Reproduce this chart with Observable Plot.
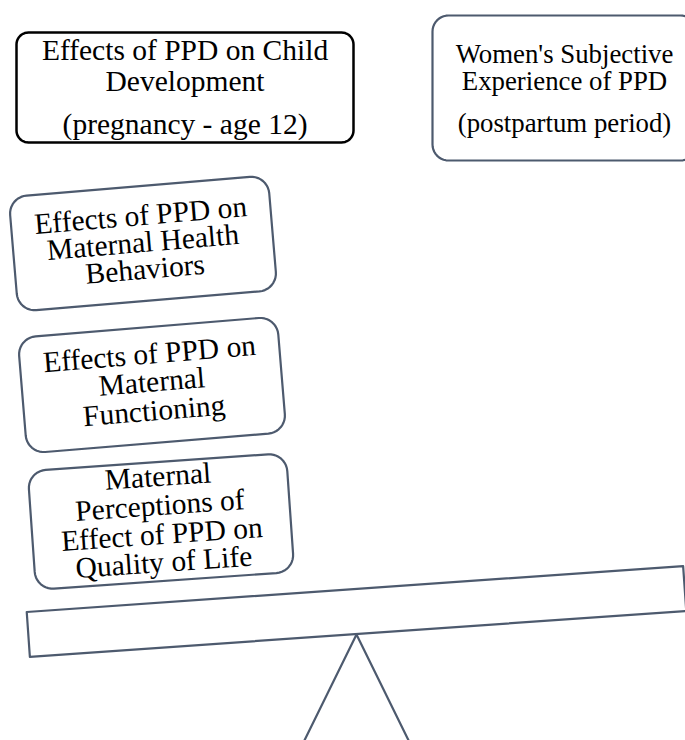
<!DOCTYPE html>
<html><head><meta charset="utf-8">
<script src="https://cdn.jsdelivr.net/npm/d3@7"></script>
<script src="https://cdn.jsdelivr.net/npm/@observablehq/plot@0.6"></script>
<style>body{margin:0;background:#fff}#chart svg{display:block}</style>
</head><body><div id="chart"></div>
<script>
// Diagram content
const boxIds = ["child", "women", "health", "functioning", "quality"];
const boxLines = [
  ["Effects of PPD on Child", "Development", "(pregnancy - age 12)"],
  ["Women's Subjective", "Experience of PPD", "(postpartum period)"],
  ["Effects of PPD on", "Maternal Health", "Behaviors"],
  ["Effects of PPD on", "Maternal", "Functioning"],
  ["Maternal", "Perceptions of", "Effect of PPD on", "Quality of Life"]
];
// Box layout (centre, size, tilt in degrees)
const boxCx = [184.5, 564, 142.5, 151.5, 160.5];
const boxCy = [87, 87.5, 243, 384.5, 521];
const boxW = [337, 264, 260, 260, 259];
const boxH = [110, 145, 115, 116, 119];
const boxAngle = [0, 0, -4.8, -4.7, -4];
const boxRadius = [12, 16, 18, 18, 18];
const boxLineOffsets = [[-37, -6, 37], [-34, -7, 35], [-28, -1, 26], [-31, -3, 26], [-45, -16, 13, 41]];
const boxFontSize = [29.5, 26.8, 29.5, 29.5, 29.5];
const boxStroke = ["#000000", "#4d5a6e", "#4d5a6e", "#4d5a6e", "#4d5a6e"];
const boxStrokeWidth = [2.5, 2.2, 2.2, 2.2, 2.2];
// Seesaw plank and fulcrum
const plankGeom = [356, 611, 658, 45, -4]; // cx, cy, w, h, angle
const fulcrumX = [298, 356, 414];
const fulcrumY = [752, 634, 752];
const lineColor = "#4d5a6e";

function rectPoints(id, cx, cy, w, h, r, angleDeg) {
  const a = angleDeg * Math.PI / 180, c = Math.cos(a), s = Math.sin(a);
  const hw = w / 2, hh = h / 2, pts = [];
  const corners = [[hw - r, -hh + r, -90], [hw - r, hh - r, 0], [-hw + r, hh - r, 90], [-hw + r, -hh + r, 180]];
  const steps = r > 0 ? 10 : 0;
  for (const [ox, oy, start] of corners) {
    for (let k = 0; k <= steps; k++) {
      const t = (start + (steps ? k * 90 / steps : 0)) * Math.PI / 180;
      const lx = ox + r * Math.cos(t), ly = oy + r * Math.sin(t);
      pts.push({id, x: cx + lx * c - ly * s, y: cy + lx * s + ly * c});
    }
  }
  pts.push({...pts[0]});
  return pts;
}

const outline = [];
boxIds.forEach((id, i) => {
  rectPoints(id, boxCx[i], boxCy[i], boxW[i], boxH[i], boxRadius[i], boxAngle[i])
    .forEach(p => outline.push({...p, stroke: boxStroke[i], sw: boxStrokeWidth[i]}));
});
rectPoints("plank", ...plankGeom.slice(0, 4), 0, plankGeom[4])
  .forEach(p => outline.push({...p, stroke: lineColor, sw: 2.2}));
fulcrumX.forEach((x, k) => outline.push({id: "fulcrum", x, y: fulcrumY[k], stroke: lineColor, sw: 2.2}));

const labels = [];
boxIds.forEach((id, i) => {
  const a = boxAngle[i] * Math.PI / 180, c = Math.cos(a), s = Math.sin(a);
  boxLines[i].forEach((t, k) => {
    const ly = boxLineOffsets[i][k];
    labels.push({text: t, x: boxCx[i] - ly * s, y: boxCy[i] + ly * c, rotate: boxAngle[i], size: boxFontSize[i]});
  });
});

const chart = Plot.plot({
  width: 685, height: 740, margin: 0,
  x: {domain: [0, 685], range: [0, 685], axis: null},
  y: {domain: [0, 740], range: [0, 740], axis: null},
  color: {type: "identity"},
  style: {background: "#fff"},
  marks: [
    Plot.line(outline, {x: "x", y: "y", z: "id", stroke: "stroke", strokeWidth: "sw", curve: "linear", strokeLinejoin: "round"}),
    Plot.text(labels, {x: "x", y: "y", text: "text", rotate: "rotate", fontSize: "size",
      fontFamily: "'Liberation Serif', 'Times New Roman', serif", fill: "#000"})
  ]
});
document.getElementById("chart").appendChild(chart);
</script>
</body></html>
